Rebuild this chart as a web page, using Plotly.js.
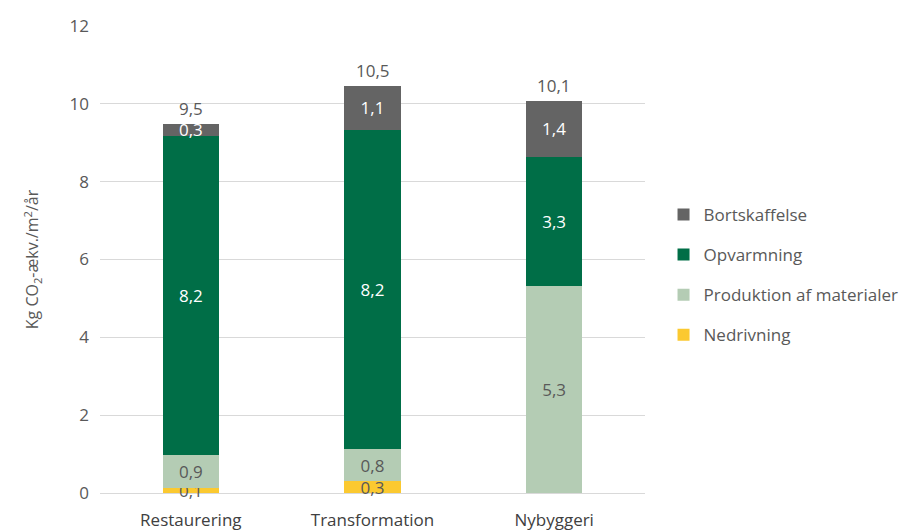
<!DOCTYPE html>
<html><head><meta charset="utf-8">
<script src="https://cdn.plot.ly/plotly-3.0.1.min.js"></script>
<style>html,body{margin:0;padding:0;background:#fff}#chart{width:916px;height:531px}</style>
</head><body><div id="chart"></div>
<script>
const categories = ["Restaurering", "Transformation", "Nybyggeri"];
const nedrivning = [0.12, 0.3, 0];
const produktion = [0.86, 0.83, 5.32];
const opvarmning = [8.2, 8.2, 3.32];
const bortskaffelse = [0.31, 1.14, 1.44];
const seriesNames = ["Nedrivning", "Produktion af materialer", "Opvarmning", "Bortskaffelse"];
const seriesColors = ["#FBC930", "#B4CCB4", "#006E47", "#646464"];
const labelColors = ["#595959", "#595959", "#FFFFFF", "#FFFFFF"];

const series = [nedrivning, produktion, opvarmning, bortskaffelse];
const totals = categories.map((c, i) => series.reduce((s, arr) => s + arr[i], 0));
const FONT = "Open Sans, sans-serif";

const traces = series.map((vals, k) => ({
  type: "bar",
  name: seriesNames[k],
  x: categories,
  y: vals,
  legendgroup: "g" + k,
  legendrank: (series.length - k) * 100,
  marker: {color: seriesColors[k]},
  texttemplate: vals.map(v => v > 0 ? "%{y:.1f}" : ""),
  textposition: "inside",
  insidetextanchor: "middle",
  textangle: 0,
  constraintext: "none",
  cliponaxis: false,
  textfont: {color: labelColors[k], size: 17, family: FONT},
  hoverinfo: "skip"
}));

const fmt = v => v.toFixed(1).replace(".", ",");
const annotations = categories.map((c, i) => ({
  x: c, y: totals[i], xref: "x", yref: "y",
  text: fmt(totals[i]),
  showarrow: false,
  yanchor: "bottom",
  yshift: 2,
  font: {color: "#595959", size: 17, family: FONT}
}));

const layout = {
  width: 916, height: 531,
  margin: {l: 100, r: 268, t: 26, b: 38},
  separators: ", ",
  barmode: "stack",
  bargap: 0.69,
  paper_bgcolor: "#fff",
  plot_bgcolor: "#fff",
  font: {family: FONT, color: "#595959", size: 17},
  annotations: annotations,
  xaxis: {
    tickfont: {color: "#404040", size: 17},
    ticklabelstandoff: 15,
    showgrid: false,
    showline: false
  },
  yaxis: {
    range: [0, 12],
    dtick: 2,
    tickformat: "d",
    gridcolor: "#D9D9D9",
    gridwidth: 1,
    zeroline: true,
    zerolinecolor: "#D9D9D9",
    zerolinewidth: 1,
    ticklabelstandoff: 10,
    tickfont: {color: "#595959", size: 17},
    title: {text: "Kg CO<sub>2</sub>-ækv./m<sup>2</sup>/år", font: {size: 16, color: "#595959"}, standoff: 26}
  },
  legend: {
    x: 1.034, xanchor: "left",
    y: 0.467, yanchor: "middle",
    traceorder: "grouped",
    tracegroupgap: 15,
    font: {size: 17, color: "#595959"},
    itemwidth: 30
  },
  showlegend: true
};

Plotly.newPlot("chart", traces, layout, {displayModeBar: false, staticPlot: true});
</script></body></html>
